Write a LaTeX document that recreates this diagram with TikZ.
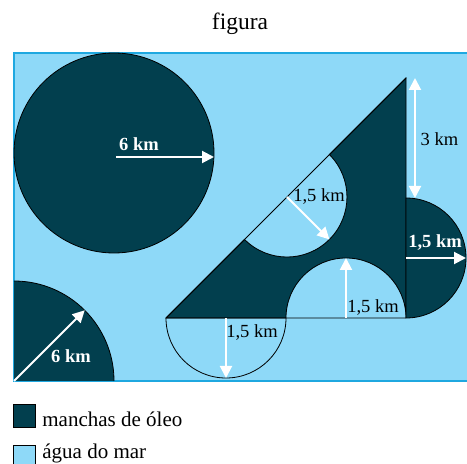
\documentclass[tikz,border=0pt]{standalone}
\usepackage{fontspec}
\setmainfont{Liberation Serif}
\usetikzlibrary{arrows.meta}
\definecolor{oleo}{HTML}{023F4E}
\definecolor{mar}{HTML}{8ED9F8}
\definecolor{borda}{HTML}{1FA8E0}
\tikzset{
  seta/.style={white,line width=2pt,-{Triangle[length=12pt,width=12pt]}},
  dupla/.style={white,line width=2pt,{Triangle[length=12pt,width=12pt]}-{Triangle[length=12pt,width=12pt]}},
  rot/.style={font=\fontsize{18.5}{20}\selectfont,inner sep=0pt},
  rotb/.style={font=\fontsize{18.5}{20}\selectfont\bfseries,text=white,inner sep=0pt},
  leg/.style={font=\fontsize{21}{24}\selectfont,anchor=base west,inner sep=0pt}
}
\begin{document}
\begin{tikzpicture}[x=1pt,y=1pt,line width=0.8pt]
  \useasboundingbox (0,0) rectangle (467,464);
  \node[font=\fontsize{23.5}{26}\selectfont,anchor=base,inner sep=0pt] (tit) at (240,434) {figura};
  % mar
  \fill[mar,draw=borda,line width=1.5pt] (14,83) rectangle (472,411);
  % manchas redondas
  \coordinate (O1) at (114,311);
  \coordinate (P1) at (116,307);
  \coordinate (Q1) at (214,307);
  \filldraw[fill=oleo] (O1) circle (100pt);
  \coordinate (O2) at (14,83);
  \coordinate (Q2) at (84.7,153.7);
  \fill[oleo] (O2) -- (114,83) arc[start angle=0,end angle=90,radius=100pt] -- cycle;
  \draw (114,83) arc[start angle=0,end angle=90,radius=100pt];
  % triangulo
  \coordinate (A) at (166,146);
  \coordinate (B) at (406,146);
  \coordinate (C) at (406,386);
  \coordinate (M) at (346,146);
  \coordinate (H) at (287,267);
  \coordinate (D) at (226,146);
  \coordinate (E) at (406,206);
  \filldraw[fill=oleo] (A) -- (286,146) arc[start angle=180,end angle=0,radius=60pt]
    -- (C) -- (329.4,309.4) arc[start angle=45,end angle=-135,radius=60pt] -- cycle;
  \draw (A) -- (B) (A) -- (C);
  \draw (A) arc[start angle=180,end angle=360,radius=60pt];
  \filldraw[fill=oleo] (406,266) arc[start angle=90,end angle=-90,radius=60pt] -- cycle;
  % setas
  \coordinate (T1) at (415,386);
  \coordinate (T2) at (415,266);
  \coordinate (H1) at (329.4,224.6);
  \coordinate (M1) at (346,206);
  \coordinate (D1) at (226,86);
  \coordinate (E1) at (466,206);
  \draw[seta] (P1) -- (Q1);
  \draw[seta] (O2) -- (Q2);
  \draw[dupla] (T1) -- (T2);
  \draw[seta] (H) -- (H1);
  \draw[seta] (M) -- (M1);
  \draw[seta] (D) -- (D1);
  \draw[seta] (E) -- (E1);
  % rotulos
  \node[rotb] (r1) at (139,320) {6 km};
  \node[rotb] (r2) at (71,108) {6 km};
  \node[rot] (r3) at (439.5,325) {3 km};
  \node[rot] (r4) at (319,267) {1,5 km};
  \node[rot] (r5) at (373,156) {1,5 km};
  \node[rot] (r6) at (252,131) {1,5 km};
  \node[rotb] (r7) at (435,221) {1,5 km};
  % legenda
  \filldraw[fill=oleo] (13,37) rectangle (35,60);
  \node[leg] (l1) at (42,37) {manchas de óleo};
  \filldraw[fill=mar] (13,-4) rectangle (35,19);
  \node[leg] (l2) at (42,5) {água do mar};
\end{tikzpicture}
\end{document}
